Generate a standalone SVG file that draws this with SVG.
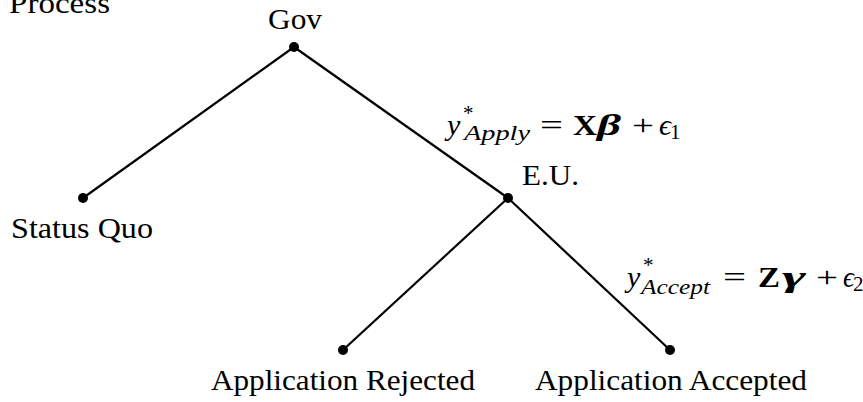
<svg xmlns="http://www.w3.org/2000/svg" width="863" height="402" viewBox="0 0 863 402" font-family="'Liberation Serif', 'Times New Roman', 'DejaVu Serif', serif">
  <style>
    text { font-family: "Liberation Serif", "Times New Roman", "DejaVu Serif", serif; font-size: 30px; fill: #000; }
    .mid { text-anchor: middle; }
    .it { font-style: italic; }
    .bf { font-weight: bold; }
    .sub { font-size: 21px; }
    .edge { stroke: #000; stroke-width: 2.2; fill: none; }
    .dot { fill: #000; }
  </style>
  <rect width="863" height="402" fill="#fff"/>

  <!-- title fragment at the top edge -->
  <text x="9" y="13" textLength="101" lengthAdjust="spacingAndGlyphs">Process</text>

  <!-- edges of the decision tree -->
  <g id="connectors">
    <line class="edge" x1="294" y1="47" x2="83" y2="198"/>
    <line class="edge" x1="294" y1="47" x2="508" y2="198"/>
    <line class="edge" x1="508" y1="198" x2="343" y2="350"/>
    <line class="edge" x1="508" y1="198" x2="670" y2="350"/>
  </g>

  <g id="gov">
    <circle class="dot" cx="294" cy="47" r="5"/>
    <text class="mid" x="295" y="29" textLength="54" lengthAdjust="spacingAndGlyphs">Gov</text>
  </g>

  <g id="status-quo">
    <circle class="dot" cx="83" cy="198" r="5"/>
    <text class="mid" x="82" y="238" textLength="142" lengthAdjust="spacingAndGlyphs">Status Quo</text>
  </g>

  <g id="eu">
    <circle class="dot" cx="508" cy="198" r="5"/>
    <text x="522" y="185" textLength="57" lengthAdjust="spacingAndGlyphs">E.U.</text>
  </g>

  <g id="rejected">
    <circle class="dot" cx="343" cy="350" r="5"/>
    <text class="mid" x="343" y="390" textLength="264" lengthAdjust="spacingAndGlyphs">Application Rejected</text>
  </g>

  <g id="accepted">
    <circle class="dot" cx="670" cy="350" r="5"/>
    <text class="mid" x="671" y="390" textLength="272" lengthAdjust="spacingAndGlyphs">Application Accepted</text>
  </g>

  <!-- edge labels: latent utility equations -->
  <g id="eq-apply">
    <text class="it" x="447" y="135">y</text>
    <text class="sub" x="463" y="120">*</text>
    <text class="sub it" x="464" y="140" textLength="66" lengthAdjust="spacingAndGlyphs">Apply</text>
    <text x="540" y="135" textLength="23" lengthAdjust="spacingAndGlyphs">=</text>
    <text class="bf" x="573" y="135" textLength="24" lengthAdjust="spacingAndGlyphs">X</text>
    <text class="bf it" x="597" y="135" textLength="24" lengthAdjust="spacingAndGlyphs">β</text>
    <text x="632" y="135" textLength="22" lengthAdjust="spacingAndGlyphs">+</text>
    <text class="it" x="659" y="135" textLength="12" lengthAdjust="spacingAndGlyphs">ϵ</text>
    <text class="sub" x="670" y="139">1</text>
  </g>

  <g id="eq-accept">
    <text class="it" x="627" y="287">y</text>
    <text class="sub" x="643" y="272">*</text>
    <text class="sub it" x="641" y="294" textLength="69" lengthAdjust="spacingAndGlyphs">Accept</text>
    <text x="723" y="287" textLength="23" lengthAdjust="spacingAndGlyphs">=</text>
    <text class="bf" x="758" y="287" textLength="22" lengthAdjust="spacingAndGlyphs">Z</text>
    <text class="bf it" x="782" y="287" textLength="24" lengthAdjust="spacingAndGlyphs">γ</text>
    <text x="816" y="287" textLength="22" lengthAdjust="spacingAndGlyphs">+</text>
    <text class="it" x="843" y="287" textLength="11" lengthAdjust="spacingAndGlyphs">ϵ</text>
    <text class="sub" x="853" y="291">2</text>
  </g>
</svg>
